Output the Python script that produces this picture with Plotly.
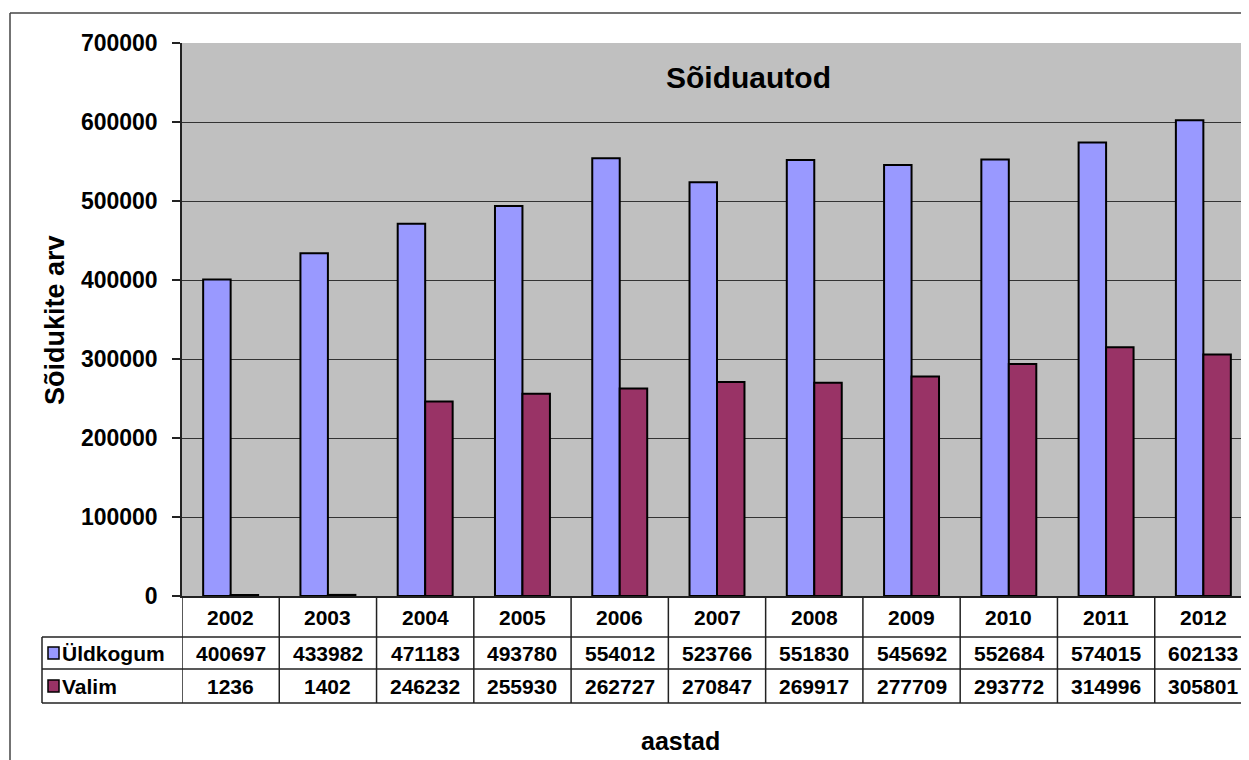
import plotly.graph_objects as go

years = ["2002", "2003", "2004", "2005", "2006", "2007", "2008", "2009", "2010", "2011", "2012"]
uldkogum = [400697, 433982, 471183, 493780, 554012, 523766, 551830, 545692, 552684, 574015, 602133]
valim = [1236, 1402, 246232, 255930, 262727, 270847, 269917, 277709, 293772, 314996, 305801]
series_names = ["Üldkogum", "Valim"]
series_colors = ["#9999ff", "#993366"]
y_ticks = [0, 100000, 200000, 300000, 400000, 500000, 600000, 700000]

# the page body has an 8px margin, so the figure starts at (8, 8)
OFF = 8
W, H = 1249, 760 - OFF
FONT = "Arial, Liberation Sans, sans-serif"

def px(x):
    return (x - OFF) / W

def py(y):
    return 1 - (y - OFF) / H

fig = go.Figure()
for name, vals, col in zip(series_names, [uldkogum, valim], series_colors):
    fig.add_trace(go.Bar(
        x=years, y=vals, name=name,
        marker=dict(color=col, line=dict(color="black", width=2)),
        hoverinfo="x+y",
    ))

shapes = []
annotations = []
line = dict(color="#222222", width=1.5)

# outer chart border
shapes.append(dict(type="line", xref="paper", yref="paper", x0=px(10), x1=1, y0=py(13), y1=py(13), line=dict(color="#444444", width=1.5)))
shapes.append(dict(type="line", xref="paper", yref="paper", x0=px(10), x1=px(10), y0=py(13), y1=0, line=dict(color="#444444", width=1.5)))

# data table grid
n = len(years)
for i in range(n + 1):
    shapes.append(dict(type="line", xref="x", yref="paper", x0=i - 0.5, x1=i - 0.5,
                       y0=py(596), y1=py(703), line=line))
for yy in [637, 669, 703]:
    shapes.append(dict(type="line", xref="paper", yref="paper", x0=px(42), x1=px(1252),
                       y0=py(yy), y1=py(yy), line=line))
shapes.append(dict(type="line", xref="paper", yref="paper", x0=px(42), x1=px(42),
                   y0=py(637), y1=py(703), line=line))

tfont = dict(family=FONT, size=21, color="black")
for i, yr in enumerate(years):
    annotations.append(dict(x=i, y=py(617), xref="x", yref="paper", text="<b>%s</b>" % yr,
                            showarrow=False, font=tfont, xanchor="center", yanchor="middle"))
row_y = [653, 686]
for r, (name, vals, col) in enumerate(zip(series_names, [uldkogum, valim], series_colors)):
    yc = row_y[r]
    for i, v in enumerate(vals):
        annotations.append(dict(x=i, y=py(yc), xref="x", yref="paper", text="<b>%d</b>" % v,
                                showarrow=False, font=tfont, xanchor="center", yanchor="middle"))
    shapes.append(dict(type="rect", xref="paper", yref="paper", x0=px(48), x1=px(59),
                       y0=py(yc - 6), y1=py(yc + 6), fillcolor=col, line=dict(color="black", width=1.5)))
    annotations.append(dict(x=px(60), y=py(yc), xref="paper", yref="paper", text="<b>%s</b>" % name,
                            showarrow=False, font=tfont, xanchor="left", yanchor="middle"))

# chart title
annotations.append(dict(x=px(748), y=py(77), xref="paper", yref="paper", text="<b>Sõiduautod</b>",
                        showarrow=False, font=dict(family=FONT, size=30, color="black"),
                        xanchor="center", yanchor="middle"))
# axis titles
annotations.append(dict(x=px(680), y=py(741), xref="paper", yref="paper", text="<b>aastad</b>",
                        showarrow=False, font=dict(family=FONT, size=25, color="black"),
                        xanchor="center", yanchor="middle"))
annotations.append(dict(x=px(55), y=py(320), xref="paper", yref="paper", text="<b>Sõidukite arv</b>",
                        showarrow=False, font=dict(family=FONT, size=27, color="black"),
                        textangle=-90, xanchor="center", yanchor="middle"))

fig.update_layout(
    width=W, height=H,
    margin=dict(l=0, r=0, t=0, b=0),
    template="none",
    paper_bgcolor="white",
    plot_bgcolor="#c0c0c0",
    showlegend=False,
    barmode="group",
    bargap=0.435,
    bargroupgap=0,
    shapes=shapes,
    annotations=annotations,
    font=dict(family=FONT, color="black"),
)
fig.update_xaxes(
    domain=[px(182), px(1252)], range=[-0.5, n - 0.5], type="category",
    showticklabels=False, showgrid=False, zeroline=False, ticks="", automargin=False,
    showline=True, linecolor="#222222", linewidth=1.5,
)
fig.update_yaxes(
    domain=[py(596), py(43)], range=[0, 700000], tickvals=y_ticks,
    ticktext=["<b>%d</b>" % t for t in y_ticks],
    tickfont=dict(family=FONT, size=23, color="black"),
    ticks="outside", ticklen=8, tickcolor="#222222", tickwidth=1.5,
    showgrid=True, gridcolor="#333333", gridwidth=1.2,
    zeroline=False, showline=True, linecolor="#222222", linewidth=1.5,
    automargin=False, ticklabelstandoff=10,
)

fig.write_html("out.html")
